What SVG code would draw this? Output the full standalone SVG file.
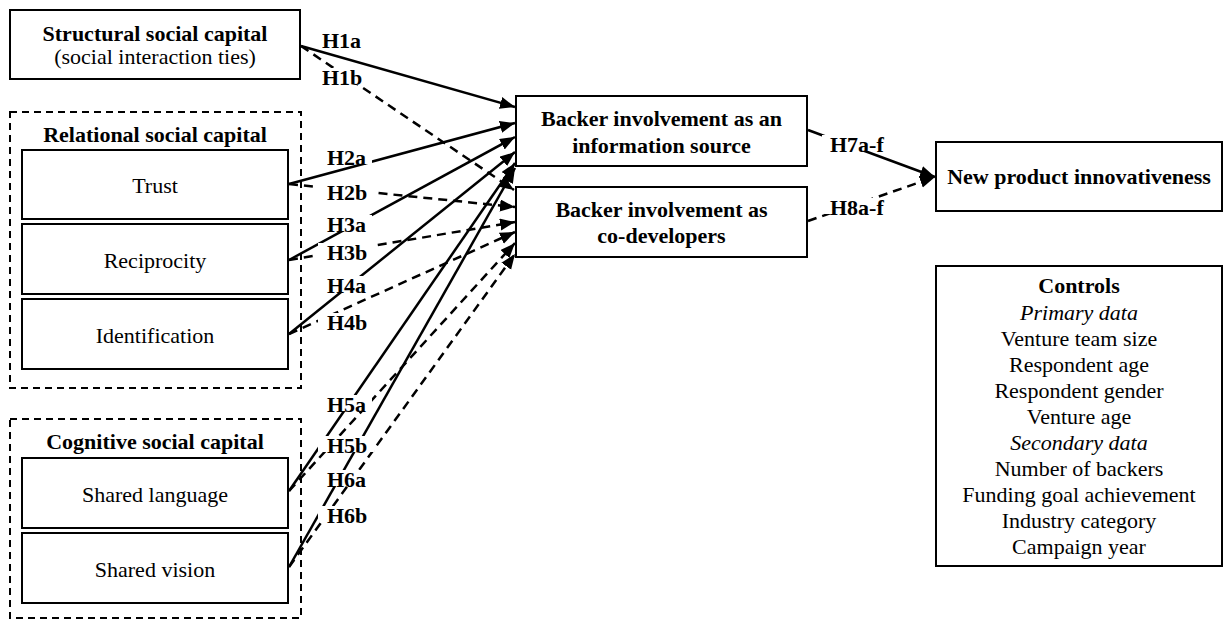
<svg xmlns="http://www.w3.org/2000/svg" width="1223" height="620" viewBox="0 0 1223 620">
  <style>
    .box { fill: #fff; stroke: #000; stroke-width: 2; }
    .group { fill: none; stroke: #000; stroke-width: 2; stroke-dasharray: 7 5; }
    .t { font-family: "Liberation Serif", "Times New Roman", serif; font-size: 22px; fill: #000; text-anchor: middle; }
    .b { font-weight: bold; }
    .i { font-style: italic; }
    .lbl { font-family: "Liberation Serif", "Times New Roman", serif; font-size: 22px; font-weight: bold; fill: #000; }
    .solid { stroke: #000; stroke-width: 2.5; fill: none; marker-end: url(#arrow); }
    .dash { stroke: #000; stroke-width: 2.5; fill: none; stroke-dasharray: 9 6; marker-end: url(#arrow); }
    .mask { fill: #fff; }
  </style>
  <defs>
    <marker id="arrow" markerUnits="userSpaceOnUse" markerWidth="16" markerHeight="13" refX="15" refY="6" orient="auto">
      <path d="M0,0 L15,6 L0,12 z" fill="#000"/>
    </marker>
  </defs>
  <rect width="1223" height="620" fill="#fff"/>

  <!-- connectors -->
  <g id="connectors">
    <line class="solid" x1="301" y1="46" x2="515" y2="107"/>
    <line class="dash" x1="301" y1="46" x2="514" y2="190"/>
    <line class="solid" x1="289" y1="184" x2="515" y2="123"/>
    <line class="dash" x1="289" y1="184" x2="515" y2="207"/>
    <line class="solid" x1="289" y1="260" x2="515" y2="137"/>
    <line class="dash" x1="289" y1="260" x2="515" y2="222"/>
    <line class="solid" x1="289" y1="334" x2="515" y2="152"/>
    <line class="dash" x1="289" y1="334" x2="515" y2="232"/>
    <line class="solid" x1="289" y1="491" x2="515" y2="163"/>
    <line class="dash" x1="289" y1="491" x2="515" y2="243"/>
    <line class="solid" x1="289" y1="567" x2="515" y2="168"/>
    <line class="dash" x1="289" y1="567" x2="515" y2="254"/>
    <line class="solid" x1="808" y1="130" x2="935" y2="177"/>
    <line class="dash" x1="808" y1="221" x2="935" y2="177"/>
  </g>

  <!-- hypothesis labels on opaque backgrounds -->
  <g id="labels">
    <rect class="mask" x="316" y="31" width="50" height="17"/>
    <text class="lbl" x="322" y="48">H1a</text>
    <rect class="mask" x="316" y="68" width="50" height="17"/>
    <text class="lbl" x="322" y="85">H1b</text>
    <rect class="mask" x="318" y="148" width="54" height="16"/>
    <text class="lbl" x="327" y="165">H2a</text>
    <rect class="mask" x="318" y="183" width="56" height="16"/>
    <text class="lbl" x="327" y="200">H2b</text>
    <rect class="mask" x="318" y="215" width="54" height="16"/>
    <text class="lbl" x="327" y="232">H3a</text>
    <rect class="mask" x="318" y="243" width="56" height="16"/>
    <text class="lbl" x="327" y="260">H3b</text>
    <rect class="mask" x="318" y="276" width="54" height="16"/>
    <text class="lbl" x="327" y="293">H4a</text>
    <rect class="mask" x="318" y="313" width="56" height="16"/>
    <text class="lbl" x="327" y="330">H4b</text>
    <rect class="mask" x="318" y="395" width="54" height="16"/>
    <text class="lbl" x="327" y="412">H5a</text>
    <rect class="mask" x="318" y="436" width="56" height="16"/>
    <text class="lbl" x="327" y="453">H5b</text>
    <rect class="mask" x="318" y="470" width="54" height="16"/>
    <text class="lbl" x="327" y="487">H6a</text>
    <rect class="mask" x="318" y="506" width="56" height="16"/>
    <text class="lbl" x="327" y="523">H6b</text>
    <rect class="mask" x="822" y="135" width="68" height="16"/>
    <text class="lbl" x="830" y="152">H7a-f</text>
    <rect class="mask" x="825" y="198" width="66" height="16"/>
    <text class="lbl" x="830" y="215">H8a-f</text>
  </g>

  <g id="structural">
    <rect class="box" x="10" y="10" width="290" height="69"/>
    <text class="t b" x="155" y="41">Structural social capital</text>
    <text class="t" x="155" y="64">(social interaction ties)</text>
  </g>

  <g id="relational">
    <rect class="group" x="10" y="112" width="291" height="276"/>
    <text class="t b" x="155" y="142">Relational social capital</text>
  </g>
  <g id="trust">
    <rect class="box" x="22" y="150" width="266" height="69"/>
    <text class="t" x="155" y="193">Trust</text>
  </g>
  <g id="reciprocity">
    <rect class="box" x="22" y="224" width="266" height="70"/>
    <text class="t" x="155" y="268">Reciprocity</text>
  </g>
  <g id="identification">
    <rect class="box" x="22" y="299" width="266" height="70"/>
    <text class="t" x="155" y="343">Identification</text>
  </g>

  <g id="cognitive">
    <rect class="group" x="10" y="419" width="291" height="199"/>
    <text class="t b" x="155" y="449">Cognitive social capital</text>
  </g>
  <g id="shared-language">
    <rect class="box" x="22" y="458" width="266" height="70"/>
    <text class="t" x="155" y="502">Shared language</text>
  </g>
  <g id="shared-vision">
    <rect class="box" x="22" y="533" width="266" height="70"/>
    <text class="t" x="155" y="577">Shared vision</text>
  </g>

  <g id="info-source">
    <rect class="box" x="516" y="96" width="291" height="70"/>
    <text class="t b" x="661.5" y="126">Backer involvement as an</text>
    <text class="t b" x="661.5" y="153">information source</text>
  </g>
  <g id="co-developers">
    <rect class="box" x="516" y="187" width="291" height="70"/>
    <text class="t b" x="661.5" y="217">Backer involvement as</text>
    <text class="t b" x="661.5" y="243">co-developers</text>
  </g>

  <g id="innovativeness">
    <rect class="box" x="936" y="142" width="286" height="69"/>
    <text class="t b" x="1079" y="184">New product innovativeness</text>
  </g>

  <g id="controls">
    <rect class="box" x="936" y="266" width="286" height="300"/>
    <text class="t b" x="1079" y="293">Controls</text>
    <text class="t i" x="1079" y="320">Primary data</text>
    <text class="t" x="1079" y="346">Venture team size</text>
    <text class="t" x="1079" y="372">Respondent age</text>
    <text class="t" x="1079" y="398">Respondent gender</text>
    <text class="t" x="1079" y="424">Venture age</text>
    <text class="t i" x="1079" y="450">Secondary data</text>
    <text class="t" x="1079" y="476">Number of backers</text>
    <text class="t" x="1079" y="502">Funding goal achievement</text>
    <text class="t" x="1079" y="528">Industry category</text>
    <text class="t" x="1079" y="554">Campaign year</text>
  </g>
</svg>
